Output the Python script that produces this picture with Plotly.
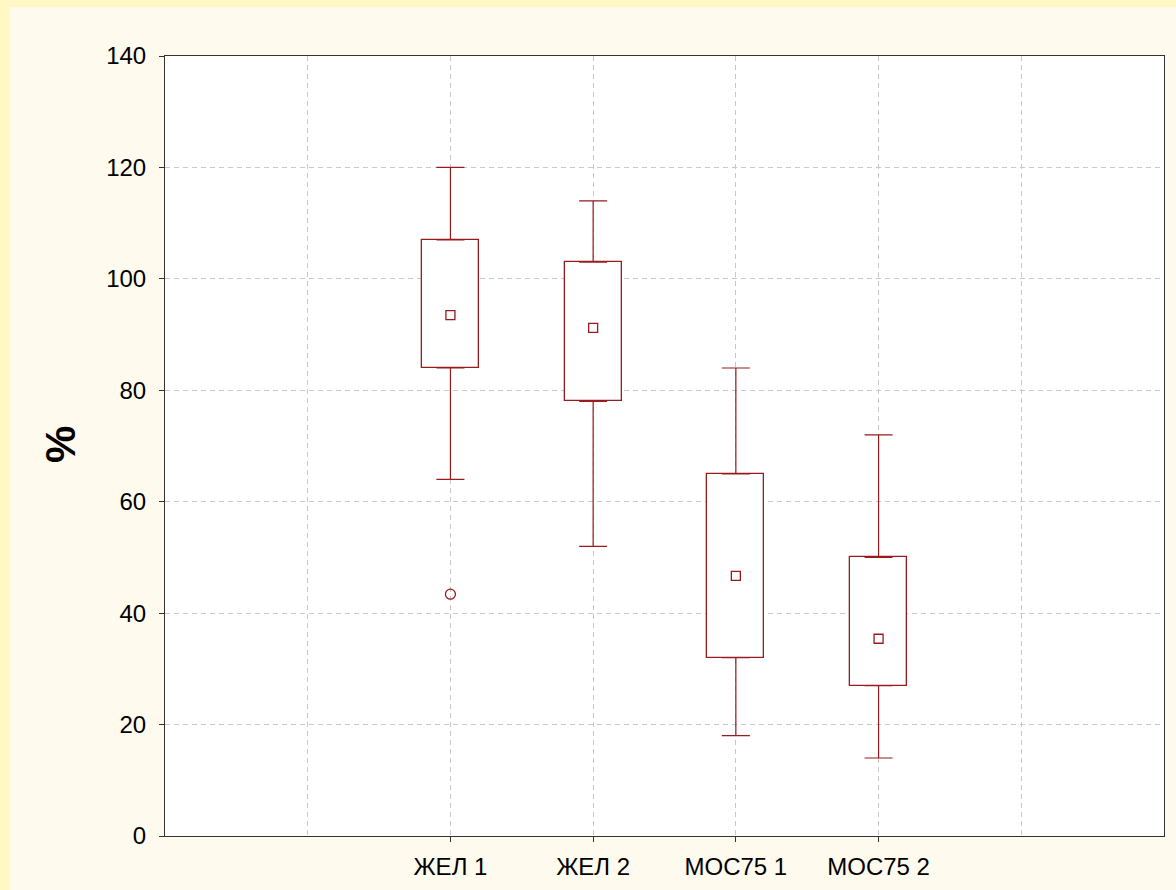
import plotly.graph_objects as go

categories = ["ЖЕЛ 1", "ЖЕЛ 2", "МОС75 1", "МОС75 2"]
positions = [2, 3, 4, 5]
whisker_low = [64, 52, 18, 14]
q1 = [84, 78, 32, 27]
median = [93.5, 91.2, 46.7, 35.4]
q3 = [107, 103, 65, 50]
whisker_high = [120, 114, 84, 72]
outlier_x = [2]
outlier_y = [43.4]
y_ticks = [0, 20, 40, 60, 80, 100, 120, 140]

RED = "#981b1e"
FONT = "Liberation Sans, Arial, sans-serif"

fig = go.Figure()

# boxes (25%-75%)
fig.add_trace(go.Bar(
    x=positions, y=[b - a for a, b in zip(q1, q3)], base=q1, width=0.4,
    marker=dict(color="white", line=dict(color=RED, width=1.3)),
    showlegend=False, hoverinfo="skip"))

# upper whiskers
fig.add_trace(go.Scatter(
    x=positions, y=q3, mode="markers",
    marker=dict(size=1, color="rgba(0,0,0,0)"),
    error_y=dict(type="data", symmetric=False,
                 array=[h - t for h, t in zip(whisker_high, q3)],
                 arrayminus=[0] * len(q3), color=RED, thickness=1.2, width=14),
    showlegend=False, hoverinfo="skip"))

# lower whiskers
fig.add_trace(go.Scatter(
    x=positions, y=q1, mode="markers",
    marker=dict(size=1, color="rgba(0,0,0,0)"),
    error_y=dict(type="data", symmetric=False,
                 array=[0] * len(q1),
                 arrayminus=[b - l for b, l in zip(q1, whisker_low)],
                 color=RED, thickness=1.2, width=14),
    showlegend=False, hoverinfo="skip"))

# medians
fig.add_trace(go.Scatter(
    x=positions, y=median, mode="markers",
    marker=dict(symbol="square-open", size=9, color=RED, line=dict(width=1.3, color=RED)),
    showlegend=False))

# outliers
fig.add_trace(go.Scatter(
    x=outlier_x, y=outlier_y, mode="markers",
    marker=dict(symbol="circle-open", size=10, color=RED, line=dict(width=1.3, color=RED)),
    showlegend=False))

L, R, T, B = 165, 12, 56, 54
W, H = 1176, 890
pw, ph = W - L - R, H - T - B

fig.update_layout(
    width=W, height=H,
    margin=dict(l=L, r=R, t=T, b=B, pad=0, autoexpand=False),
    paper_bgcolor="#fffaee",
    plot_bgcolor="white",
    font=dict(family=FONT, size=24, color="black"),
    bargap=0,
    shapes=[
        dict(type="rect", xref="paper", yref="paper", layer="below",
             x0=-L / pw, x1=-(L - 10) / pw, y0=-B / ph, y1=1 + T / ph,
             fillcolor="#fff8c4", line=dict(width=0)),
        dict(type="rect", xref="paper", yref="paper", layer="below",
             x0=-L / pw, x1=1 + R / pw, y0=1 + (T - 7) / ph, y1=1 + T / ph,
             fillcolor="#fff8c4", line=dict(width=0)),
    ],
    annotations=[
        dict(text="<b>%</b>", xref="paper", yref="paper",
             x=(60 - L) / pw, y=(836 - 445) / ph, textangle=-90, showarrow=False,
             font=dict(size=42, family=FONT, color="black"),
             xanchor="center", yanchor="middle"),
    ],
)

fig.update_xaxes(
    range=[0, 7], tickvals=positions, ticktext=categories,
    showline=True, linecolor="#333333", linewidth=1, mirror=True,
    ticks="outside", ticklen=5, tickcolor="#333333",
    showgrid=True, gridcolor="#c8c8c8", griddash="5px,4px", gridwidth=1,
    minor=dict(tickvals=[1, 6], showgrid=True, gridcolor="#c8c8c8",
               griddash="5px,4px", gridwidth=1, ticks=""),
    zeroline=False, ticklabelstandoff=4, automargin=False,
    tickfont=dict(size=24, family=FONT),
)
fig.update_yaxes(
    range=[0, 140], tickvals=y_ticks,
    showline=True, linecolor="#333333", linewidth=1, mirror=True,
    ticks="outside", ticklen=5, tickcolor="#333333",
    showgrid=True, gridcolor="#c8c8c8", griddash="5px,4px", gridwidth=1,
    zeroline=False, ticklabelstandoff=8, automargin=False,
    tickfont=dict(size=24, family=FONT),
)

fig.write_html("out.html")
